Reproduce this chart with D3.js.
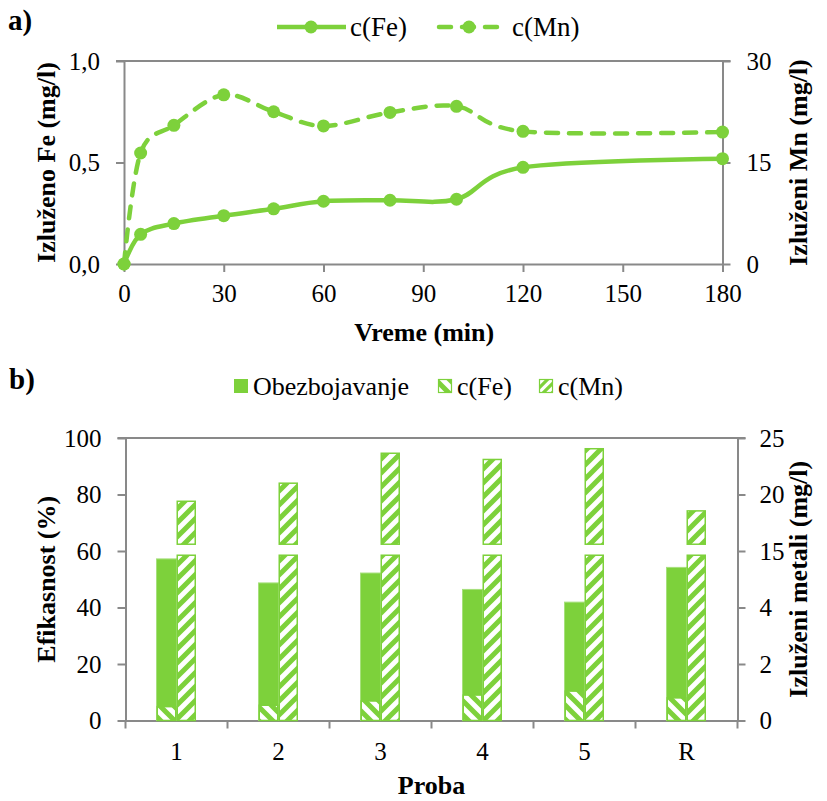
<!DOCTYPE html>
<html>
<head>
<meta charset="utf-8">
<script src="https://cdn.jsdelivr.net/npm/d3@7"></script>
<style>
  html, body { margin: 0; padding: 0; background: #fff; }
  svg { display: block; }
  text { font-family: "Liberation Serif", "Times New Roman", "DejaVu Serif", serif; fill: #000; }
</style>
</head>
<body>
<div id="chart"></div>
<script>
// ---- data: leaching kinetics (panel a) ----
const times   = [0, 5, 15, 30, 45, 60, 80, 100, 120, 180];
const feLeach = [0, 0.146, 0.199, 0.238, 0.272, 0.309, 0.314, 0.319, 0.476, 0.519];
const mnLeach = [0, 16.4, 20.5, 25.0, 22.5, 20.4, 22.4, 23.3, 19.6, 19.5];
const timeTicks = [0, 30, 60, 90, 120, 150, 180];
const feTicks = [0, 0.5, 1.0];
const mnTicks = [0, 15, 30];

// ---- data: decolorization and leached metals per sample (panel b) ----
const probe    = ["1", "2", "3", "4", "5", "R"];
const decolor  = [57.2, 48.7, 52.2, 46.4, 41.9, 54.2];
const feMetal  = [0.49, 0.54, 0.69, 0.90, 1.04, 0.80];
const mnMetal  = [19.4, 21.0, 23.65, 23.1, 24.05, 18.55];
const pctTicks = [0, 20, 40, 60, 80, 100];
const metalTicks = [0, 2, 4, 15, 20, 25];

const W = 827, H = 801;
const GREEN = "#7dd13b";
const AXIS = "#898989";
const SERIF = '"Liberation Serif", "Times New Roman", "DejaVu Serif", serif';

const svg = d3.select("#chart").append("svg")
  .attr("width", W).attr("height", H)
  .attr("font-family", SERIF);

const defs = svg.append("defs");
function hatch(id, dir, size) {
  const p = defs.append("pattern").attr("id", id)
    .attr("patternUnits", "userSpaceOnUse")
    .attr("width", size).attr("height", size);
  p.append("rect").attr("width", size).attr("height", size).attr("fill", "#fff");
  const s = size, h = size / 2;
  const d = dir === "up"
    ? `M${-h},${h} L${h},${-h} M0,${s} L${s},0 M${s - h},${s + h} L${s + h},${s - h}`
    : `M${-h},${h} L${h},${s + h} M0,0 L${s},${s} M${s - h},${-h} L${s + h},${h}`;
  p.append("path").attr("d", d).attr("stroke", GREEN).attr("stroke-width", size * 0.36);
}
hatch("hatchUp", "up", 14);
hatch("hatchDown", "down", 14);
hatch("hatchUpSmall", "up", 9);
hatch("hatchDownSmall", "down", 14);

function styleAxis(g) {
  g.attr("font-family", SERIF);
  g.select(".domain").attr("stroke", AXIS).attr("stroke-width", 2);
  g.selectAll(".tick line").attr("stroke", AXIS).attr("stroke-width", 2);
  g.selectAll(".tick text").attr("font-size", 25).attr("fill", "#000")
    .attr("font-family", SERIF);
}

function title(x, y, txt, rotate, size) {
  const t = svg.append("text")
    .attr("font-family", SERIF)
    .attr("font-size", size || 26).attr("font-weight", "bold")
    .attr("text-anchor", "middle")
    .text(txt);
  if (rotate) t.attr("transform", `translate(${x},${y}) rotate(-90)`);
  else t.attr("x", x).attr("y", y);
  return t;
}

// ================= panel a =================
const ax = { l: 124, r: 722.5, t: 61, b: 264 };
const x = d3.scaleLinear().domain([0, 180]).range([ax.l, ax.r]);
const yFe = d3.scaleLinear().domain([0, 1]).range([ax.b, ax.t]);
const yMn = d3.scaleLinear().domain([0, 30]).range([ax.b, ax.t]);

svg.append("text").attr("x", 8).attr("y", 30).attr("font-family", SERIF)
  .attr("font-size", 29).attr("font-weight", "bold").text("a)");

// top border line
svg.append("line").attr("x1", ax.l - 8).attr("x2", ax.r + 8)
  .attr("y1", ax.t).attr("y2", ax.t).attr("stroke", AXIS).attr("stroke-width", 2);

const fmtComma = d => d3.format(".1f")(d).replace(".", ",");
svg.append("g").attr("transform", `translate(${ax.l},0)`)
  .call(d3.axisLeft(yFe).tickValues(feTicks).tickFormat(fmtComma).tickSize(8).tickSizeOuter(0).tickPadding(16))
  .call(styleAxis);
svg.append("g").attr("transform", `translate(${ax.r},0)`)
  .call(d3.axisRight(yMn).tickValues(mnTicks).tickSize(8).tickSizeOuter(0).tickPadding(16))
  .call(styleAxis);
svg.append("g").attr("transform", `translate(0,${ax.b})`)
  .call(d3.axisBottom(x).tickValues(timeTicks).tickSize(8).tickSizeOuter(0).tickPadding(12))
  .call(styleAxis);

const feData = times.map((t, i) => [t, feLeach[i]]);
const mnData = times.map((t, i) => [t, mnLeach[i]]);
const curve = d3.curveCardinal.tension(0);

svg.append("path").datum(mnData)
  .attr("d", d3.line().x(d => x(d[0])).y(d => yMn(d[1])).curve(curve))
  .attr("fill", "none").attr("stroke", GREEN).attr("stroke-width", 4.5)
  .attr("stroke-dasharray", "12,11").attr("stroke-linecap", "round");
svg.append("path").datum(feData)
  .attr("d", d3.line().x(d => x(d[0])).y(d => yFe(d[1])).curve(curve))
  .attr("fill", "none").attr("stroke", GREEN).attr("stroke-width", 4.5);

svg.append("g").selectAll("circle").data(mnData).join("circle")
  .attr("cx", d => x(d[0])).attr("cy", d => yMn(d[1])).attr("r", 6.5).attr("fill", GREEN);
svg.append("g").selectAll("circle").data(feData).join("circle")
  .attr("cx", d => x(d[0])).attr("cy", d => yFe(d[1])).attr("r", 6.5).attr("fill", GREEN);

// legend a
const lgA = svg.append("g");
lgA.append("line").attr("x1", 277).attr("x2", 346).attr("y1", 27).attr("y2", 27)
  .attr("stroke", GREEN).attr("stroke-width", 4.5);
lgA.append("circle").attr("cx", 311).attr("cy", 27).attr("r", 6.5).attr("fill", GREEN);
lgA.append("text").attr("x", 350).attr("y", 36).attr("font-size", 27).text("c(Fe)");
lgA.append("line").attr("x1", 439).attr("x2", 497).attr("y1", 27).attr("y2", 27)
  .attr("stroke", GREEN).attr("stroke-width", 4.5)
  .attr("stroke-dasharray", "12,11").attr("stroke-linecap", "round");
lgA.append("circle").attr("cx", 469).attr("cy", 27).attr("r", 6.5).attr("fill", GREEN);
lgA.append("text").attr("x", 512).attr("y", 36).attr("font-size", 27).text("c(Mn)");

title((ax.l + ax.r) / 2 + 1, 341, "Vreme (min)");
title(55, (ax.t + ax.b) / 2, "Izluženo Fe (mg/l)", true);
title(807, (ax.t + ax.b) / 2, "Izluženi Mn (mg/l)", true);

// ================= panel b =================
const bx = { l: 125.5, r: 737.5, t: 438, b: 720.5 };
const band = d3.scaleBand().domain(probe).range([bx.l, bx.r]).padding(0);
const yPct = d3.scaleLinear().domain([0, 100]).range([bx.b, bx.t]);
// broken metal axis: 0–6 mg/l on the lower 60 %, 15–25 mg/l on the upper 40 %
const yMetal = d3.scaleLinear().domain([0, 6, 15, 25])
  .range([yPct(0), yPct(60), yPct(60), yPct(100)]);
const breakLow = 58.5, breakHigh = 62.4;   // gap in the Mn bars (in % units)

svg.append("text").attr("x", 9).attr("y", 389).attr("font-family", SERIF)
  .attr("font-size", 29).attr("font-weight", "bold").text("b)");

svg.append("line").attr("x1", bx.l - 8).attr("x2", bx.r + 8)
  .attr("y1", bx.t).attr("y2", bx.t).attr("stroke", AXIS).attr("stroke-width", 2);

svg.append("g").attr("transform", `translate(${bx.l},0)`)
  .call(d3.axisLeft(yPct).tickValues(pctTicks).tickSize(8).tickSizeOuter(0).tickPadding(16))
  .call(styleAxis);
svg.append("g").attr("transform", `translate(${bx.r},0)`)
  .call(d3.axisRight(yMetal).tickValues(metalTicks).tickSize(8).tickSizeOuter(0).tickPadding(14))
  .call(styleAxis);
svg.append("g").attr("transform", `translate(0,${bx.b})`)
  .call(d3.axisBottom(band).tickSize(0).tickSizeOuter(0).tickPadding(22))
  .call(styleAxis);
// category boundary ticks
svg.append("g").selectAll("line").data(d3.range(probe.length + 1)).join("line")
  .attr("x1", i => bx.l + i * band.step()).attr("x2", i => bx.l + i * band.step())
  .attr("y1", bx.b).attr("y2", bx.b + 8)
  .attr("stroke", AXIS).attr("stroke-width", 2);

const barW = 20;
const bars = svg.append("g");
probe.forEach((p, i) => {
  const cx = band(p) + band.bandwidth() / 2;
  // decolorization efficiency (solid)
  bars.append("rect")
    .attr("x", cx - barW).attr("width", barW)
    .attr("y", yPct(decolor[i])).attr("height", yPct(0) - yPct(decolor[i]))
    .attr("fill", GREEN).attr("stroke", "#a6e07c").attr("stroke-width", 1);
  // leached Fe (lower metal scale)
  bars.append("rect")
    .attr("x", cx - barW + 0.75).attr("width", barW - 1.5)
    .attr("y", yMetal(feMetal[i])).attr("height", yMetal(0) - yMetal(feMetal[i]))
    .attr("fill", "url(#hatchDown)").attr("stroke", GREEN).attr("stroke-width", 1.5);
  // leached Mn: lower part up to the break, upper part on the 15–25 scale
  bars.append("rect")
    .attr("x", cx + 0.75).attr("width", barW - 2)
    .attr("y", yPct(breakLow)).attr("height", yPct(0) - yPct(breakLow))
    .attr("fill", "url(#hatchUp)").attr("stroke", GREEN).attr("stroke-width", 1.5);
  bars.append("rect")
    .attr("x", cx + 0.75).attr("width", barW - 2)
    .attr("y", yMetal(mnMetal[i])).attr("height", yPct(breakHigh) - yMetal(mnMetal[i]))
    .attr("fill", "url(#hatchUp)").attr("stroke", GREEN).attr("stroke-width", 1.5);
});

// legend b
const lgB = svg.append("g");
lgB.append("rect").attr("x", 234).attr("y", 379).attr("width", 14).attr("height", 14).attr("fill", GREEN);
lgB.append("text").attr("x", 253).attr("y", 395).attr("font-size", 26).text("Obezbojavanje");
lgB.append("rect").attr("x", 438.5).attr("y", 379.5).attr("width", 13).attr("height", 13)
  .attr("fill", "url(#hatchDownSmall)").attr("stroke", GREEN).attr("stroke-width", 1.2);
lgB.append("text").attr("x", 457).attr("y", 395).attr("font-size", 26).text("c(Fe)");
lgB.append("rect").attr("x", 539.5).attr("y", 379.5).attr("width", 13).attr("height", 13)
  .attr("fill", "url(#hatchUpSmall)").attr("stroke", GREEN).attr("stroke-width", 1.2);
lgB.append("text").attr("x", 558).attr("y", 395).attr("font-size", 26).text("c(Mn)");

title((bx.l + bx.r) / 2, 794, "Proba");
title(55, (bx.t + bx.b) / 2, "Efikasnost (%)", true);
title(807, (bx.t + bx.b) / 2, "Izluženi metali (mg/l)", true);
</script>
</body>
</html>
